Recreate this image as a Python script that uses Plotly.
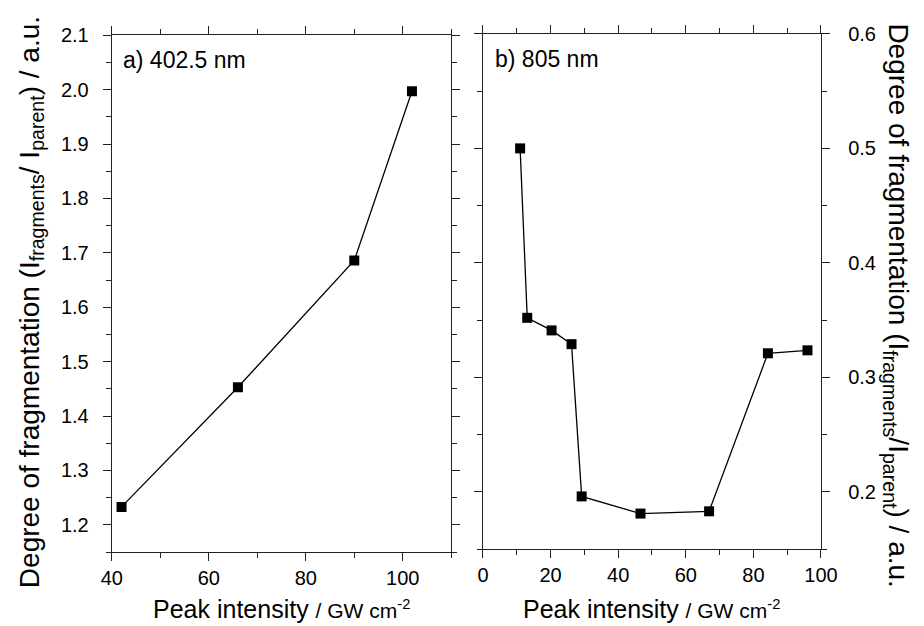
import plotly.graph_objects as go

# Panel a) 402.5 nm
x_a = [42.0, 66.0, 90.0, 101.9]
y_a = [1.233, 1.453, 1.686, 1.997]

# Panel b) 805 nm
x_b = [11.0, 13.1, 20.3, 26.2, 29.2, 46.6, 66.9, 84.3, 96.0]
y_b = [0.500, 0.352, 0.341, 0.329, 0.196, 0.181, 0.183, 0.321, 0.3236]

W, H = 924, 626
FONT = "Liberation Sans"
AX = "#222222"

fig = go.Figure()
fig.add_trace(go.Scatter(x=x_a, y=y_a, mode="lines+markers",
                         line=dict(color="black", width=1.3),
                         marker=dict(symbol="square", size=10, color="black"),
                         xaxis="x", yaxis="y", showlegend=False))
fig.add_trace(go.Scatter(x=x_b, y=y_b, mode="lines+markers",
                         line=dict(color="black", width=1.3),
                         marker=dict(symbol="square", size=10, color="black"),
                         xaxis="x2", yaxis="y2", showlegend=False))

def px_x(p):
    return p / W

def px_y(p):
    return 1 - p / H

common = dict(showline=True, linecolor=AX, linewidth=1.3, mirror="ticks",
              ticks="outside", ticklen=8, tickwidth=1.2, tickcolor=AX,
              showgrid=False, zeroline=False,
              tickfont=dict(family=FONT, size=20, color="black"))

fig.update_layout(
    width=W, height=H,
    margin=dict(l=0, r=0, t=0, b=0),
    paper_bgcolor="white", plot_bgcolor="white",
    font=dict(family=FONT, color="black", size=20),
    xaxis=dict(domain=[px_x(104), px_x(454)], anchor="y", range=[40, 110],
               tick0=40, dtick=20,
               minor=dict(dtick=10, ticklen=5, tickcolor=AX, ticks="outside", showgrid=False),
               **common),
    yaxis=dict(domain=[px_y(550.7), px_y(24.7)], anchor="x", range=[1.15, 2.1],
               tick0=1.2, dtick=0.1, tickformat=".1f", ticklabelstandoff=10,
               minor=dict(dtick=0.05, ticklen=5, tickcolor=AX, ticks="outside", showgrid=False),
               **common),
    xaxis2=dict(domain=[px_x(486.7), px_x(835.3)], anchor="y2", range=[0, 100],
                tick0=0, dtick=20,
                minor=dict(dtick=10, ticklen=5, tickcolor=AX, ticks="outside", showgrid=False),
                **common),
    yaxis2=dict(domain=[px_y(547.7), px_y(23.3)], anchor="x2", side="right", range=[0.15, 0.6],
                tick0=0.2, dtick=0.1, tickformat=".1f", ticklabelstandoff=14,
                minor=dict(dtick=0.05, ticklen=5, tickcolor=AX, ticks="outside", showgrid=False),
                **common),
)

ytitle = ("Degree of fragmentation (I<sub>fragments</sub>/ I<sub>parent</sub>) / a.u.")
xtitle = "Peak intensity <span style='font-size:21px'>/ GW cm<sup>-2</sup></span>"

anns = [
    dict(text="a) 402.5 nm", x=px_x(113), y=px_y(50), xanchor="left", yanchor="middle",
         font=dict(size=23)),
    dict(text="b) 805 nm", x=px_x(497), y=px_y(49), xanchor="left", yanchor="middle",
         font=dict(size=23)),
    dict(text=xtitle, x=px_x(279), y=px_y(609), xanchor="center", yanchor="middle",
         font=dict(size=25)),
    dict(text=xtitle, x=px_x(661), y=px_y(609), xanchor="center", yanchor="middle",
         font=dict(size=25)),
    dict(text=ytitle, x=px_x(21), y=px_y(296), xanchor="center", yanchor="middle",
         textangle=-90, font=dict(size=28)),
    dict(text=ytitle.replace("/ I", "/I"), x=px_x(913), y=px_y(300), xanchor="center", yanchor="middle",
         textangle=90, font=dict(size=28)),
]
for a in anns:
    a.update(xref="paper", yref="paper", showarrow=False)
    a["font"]["family"] = FONT
    a["font"]["color"] = "black"
fig.update_layout(annotations=anns)

fig.write_html("out.html")
